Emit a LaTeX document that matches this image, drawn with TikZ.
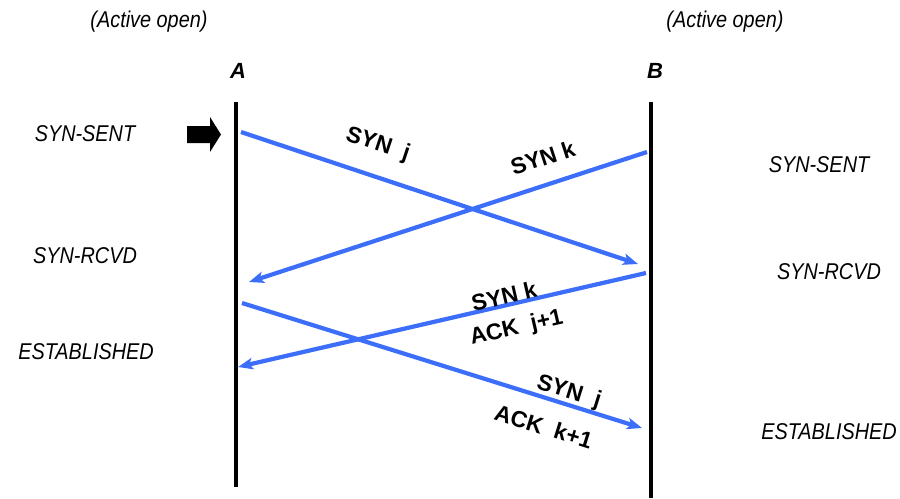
\documentclass[tikz,border=0pt]{standalone}
\usepackage{fontspec}
\setmainfont{Liberation Sans}
\newfontfamily\narrowsf[FakeStretch=0.87]{Liberation Sans}
\usetikzlibrary{arrows.meta}
\definecolor{msgblue}{RGB}{60,110,250}

\begin{document}
\begin{tikzpicture}[x=0.02cm,y=-0.02cm,
  life/.style={black, line width=2pt},
  msg/.style={msgblue, line width=2.4pt, -{Stealth[length=8.5pt,width=6.5pt,inset=2pt]}},
  state/.style={font=\narrowsf\itshape\fontsize{13}{15}\selectfont},
  host/.style={font=\bfseries\itshape\fontsize{12.5}{15}\selectfont},
  seg/.style={text=black, font=\bfseries\fontsize{13}{15}\selectfont, inner sep=0pt, sloped}]
\useasboundingbox (0,0) rectangle (900,498);

% hosts and lifelines
\node[state] (openA) at (149,22) {(Active open)};
\node[state] (openB) at (725,22) {(Active open)};
\node[host] (A) at (238,71) {A};
\node[host] (B) at (655,71) {B};
\coordinate (Atop) at (236,102); \coordinate (Abot) at (236,487);
\coordinate (Btop) at (651,102); \coordinate (Bbot) at (651,498);
\draw[life] (Atop) -- (Abot);
\draw[life] (Btop) -- (Bbot);

% states
\node[state] (sentA) at (85,134) {SYN-SENT};
\node[state] (rcvdA) at (85,256) {SYN-RCVD};
\node[state] (estA) at (86,352) {ESTABLISHED};
\node[state] (sentB) at (819,165) {SYN-SENT};
\node[state] (rcvdB) at (829,272) {SYN-RCVD};
\node[state] (estB) at (829,432) {ESTABLISHED};
\fill (187,126) -- (210,126) -- (210,117) -- (221,134.5) -- (210,152) -- (210,143) -- (187,143) -- cycle;

% segments
\coordinate (a1) at (241,132); \coordinate (b1) at (638,264);
\coordinate (b2) at (647,152); \coordinate (a2) at (249,282);
\coordinate (b3) at (646,273); \coordinate (a3) at (238,367);
\coordinate (a4) at (242,303); \coordinate (b4) at (642,428);
\draw[msg] (a1) -- node[seg, pos=0.32, above=10.4pt] (synj) {SYN~~j} (b1);
\draw[msg] (b2) -- node[seg, pos=0.241, above=9.4pt] (synk) {SYN k} (a2);
\draw[msg] (b3) -- node[seg, pos=0.343, above=-0.8pt] (synkk) {SYN k}
                   node[seg, pos=0.331, below=7pt] (ackj) {ACK~~j+1} (a3);
\draw[msg] (a4) -- node[seg, pos=0.808, above=-0.3pt] (synjj) {SYN~~j}
                   node[seg, pos=0.775, below=9.9pt] (ackk) {ACK~~k+1} (b4);
% \draw[help lines] (0,0) grid[step=50] (900,498);
\end{tikzpicture}
\end{document}
